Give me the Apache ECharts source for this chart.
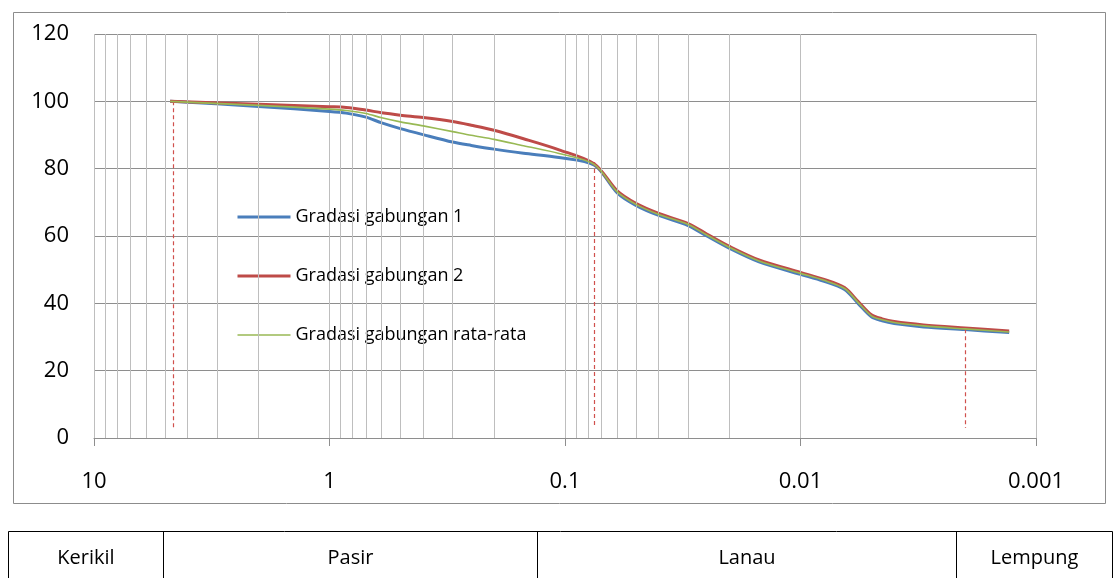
<!DOCTYPE html>
<html>
<head>
<meta charset="utf-8">
<script src="https://cdn.jsdelivr.net/npm/echarts@6/dist/echarts.min.js"></script>
<style>
  html, body { margin: 0; padding: 0; background: #fff; }
  #chart { width: 1116px; height: 578px; }
</style>
</head>
<body>
<div id="chart"></div>
<script>
// ---- data ----
const diameters = [4.75, 2.0, 1.0, 0.85, 0.7, 0.6, 0.5, 0.4, 0.3, 0.25, 0.2, 0.15, 0.106, 0.075,
  0.06, 0.05, 0.04, 0.03, 0.025, 0.02, 0.015, 0.01, 0.008, 0.0065, 0.0057, 0.005, 0.0045, 0.004,
  0.003, 0.002, 0.0013];
const gradasi1 = [100, 98.5, 97.0, 96.5, 95.3, 93.6, 91.9, 90.1, 87.9, 86.9, 85.8, 84.6, 83.3, 81.0,
  72.8, 69.1, 66.1, 63.1, 60.0, 56.3, 52.3, 48.6, 46.6, 44.1, 40.0, 36.0, 34.8, 34.0,
  33.0, 32.2, 31.3];
const gradasi2 = [100, 99.1, 98.4, 98.2, 97.4, 96.6, 95.9, 95.2, 94.0, 92.9, 91.4, 88.9, 85.6, 81.4,
  73.4, 69.7, 66.7, 63.7, 60.6, 56.9, 52.9, 49.2, 47.2, 44.7, 40.6, 36.6, 35.4, 34.6,
  33.6, 32.7, 31.8];
const gradasiRata = [100, 98.8, 97.7, 97.3, 96.4, 95.1, 93.9, 92.7, 91.0, 89.9, 88.7, 86.8, 84.5, 81.2,
  73.1, 69.4, 66.4, 63.4, 60.3, 56.6, 52.6, 48.9, 46.9, 44.4, 40.3, 36.3, 35.1, 34.3,
  33.3, 32.4, 31.5];
const seriesNames = ['Gradasi gabungan 1', 'Gradasi gabungan 2', 'Gradasi gabungan rata-rata'];
const xTickLabels = ['10', '1', '0.1', '0.01', '0.001'];
const yTickLabels = ['0', '20', '40', '60', '80', '100', '120'];
const refLineSizes = [4.6, 0.075, 0.002];
const refLineTops = [100, 82.0, 32.3];
const refLineBottom = 3;
const soilClasses = ['Kerikil', 'Pasir', 'Lanau', 'Lempung'];

// ---- build ----
const FONT = 'Open Sans';
const pairs = arr => diameters.map((d, i) => [d, arr[i]]);
const seriesColors = ['#4A7EBB', '#BE4B48', '#98B954'];
const seriesWidths = [3, 3, 1.6];

// minor vertical gridlines: 2..9 in every decade between 0.001 and 10
const minorGrid = [];
for (let e = 0; e >= -3; e--) {
  for (let k = 2; k <= 9; k++) minorGrid.push({ xAxis: k * Math.pow(10, e) });
}
minorGrid.push({ xAxis: 0.001, lineStyle: { color: '#8E8E8E' } });

const refLines = refLineSizes.map((s, i) => [
  { coord: [s, refLineTops[i]] },
  { coord: [s, refLineBottom] }
]);

const chart = echarts.init(document.getElementById('chart'), null, { renderer: 'canvas' });

// table layout (drawing constants)
const tableTop = 531.5, tableBottom = 600;
const colEdges = [8.5, 163.5, 537.5, 956.5, 1112.5];
const tableGraphics = [
  { type: 'rect', shape: { x: colEdges[0], y: tableTop, width: colEdges[4] - colEdges[0], height: tableBottom - tableTop },
    style: { fill: 'none', stroke: '#000', lineWidth: 1 }, silent: true }
];
for (let i = 1; i < colEdges.length - 1; i++) {
  tableGraphics.push({ type: 'line', shape: { x1: colEdges[i], y1: tableTop, x2: colEdges[i], y2: tableBottom },
    style: { stroke: '#000', lineWidth: 1 }, silent: true });
}
soilClasses.forEach((name, i) => {
  tableGraphics.push({ type: 'text', x: (colEdges[i] + colEdges[i + 1]) / 2, y: 558,
    style: { text: name, font: '20px "' + FONT + '"', fill: '#000', align: 'center', verticalAlign: 'middle' },
    silent: true });
});

const option = {
  backgroundColor: '#fff',
  animation: false,
  textStyle: { fontFamily: FONT },
  grid: { left: 94, right: 80, top: 34, bottom: 140, containLabel: false },
  legend: {
    data: seriesNames.map((n, i) => ({
      name: n,
      lineStyle: { color: seriesColors[i], width: seriesWidths[i] }
    })),
    orient: 'vertical',
    left: 231,
    top: 203,
    itemWidth: 53,
    itemHeight: 18,
    itemGap: 41,
    itemStyle: { opacity: 0 },
    textStyle: { fontFamily: FONT, fontSize: 18, color: '#000' },
    selectedMode: false
  },
  xAxis: {
    type: 'log',
    logBase: 10,
    min: 0.001,
    max: 10,
    inverse: true,
    axisLine: { show: true, onZero: false, lineStyle: { color: '#8E8E8E', width: 1 } },
    axisTick: { show: true, length: 8, lineStyle: { color: '#8E8E8E' } },
    axisLabel: {
      color: '#000', fontSize: 22, fontFamily: FONT, margin: 33,
      formatter: v => xTickLabels[Math.round(-Math.log10(v)) + 1]
    },
    splitLine: { show: true, lineStyle: { color: '#BEBEBE', width: 1 } }
  },
  yAxis: {
    type: 'value',
    min: 0,
    max: 120,
    interval: 20,
    axisLine: { show: false },
    axisTick: { show: false },
    axisLabel: {
      color: '#000', fontSize: 22, fontFamily: FONT, margin: 25,
      formatter: v => yTickLabels[Math.round(v / 20)]
    },
    splitLine: { show: true, lineStyle: { color: '#8E8E8E', width: 1 } }
  },
  series: [
    {
      name: 'minorGrid', type: 'line', data: [], z: 1, silent: true,
      markLine: {
        silent: true, symbol: 'none', animation: false,
        label: { show: false },
        lineStyle: { color: '#BEBEBE', width: 1, type: 'solid' },
        data: minorGrid
      }
    },
    {
      name: 'refLines', type: 'line', data: [], z: 2, silent: true,
      markLine: {
        silent: true, symbol: 'none', animation: false,
        label: { show: false },
        lineStyle: { color: '#D0504D', width: 1.2, type: [4, 3] },
        data: refLines
      }
    }
  ].concat([gradasi1, gradasi2, gradasiRata].map((arr, i) => ({
    name: seriesNames[i], type: 'line', data: pairs(arr), z: 3 + i,
    smooth: 0.3, symbol: 'none', showSymbol: false,
    lineStyle: { color: seriesColors[i], width: seriesWidths[i] },
    itemStyle: { color: seriesColors[i] }
  }))),
  graphic: [
    { type: 'rect', shape: { x: 13.5, y: 12.5, width: 1092, height: 491 },
      style: { fill: 'none', stroke: '#8C8C8C', lineWidth: 1 }, silent: true, z: -1 }
  ].concat(tableGraphics)
};

chart.setOption(option);
</script>
</body>
</html>
